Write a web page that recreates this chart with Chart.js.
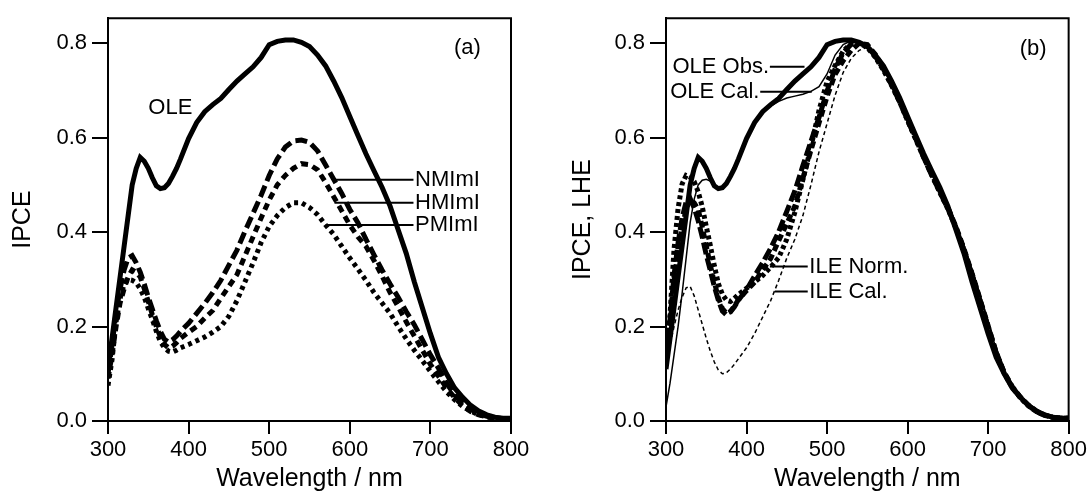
<!DOCTYPE html>
<html>
<head>
<script src="https://cdn.jsdelivr.net/npm/chart.js"></script>
<style>
  body { margin: 0; background: #fff; }
  canvas { position: absolute; top: 0; }
</style>
</head>
<body>
<canvas id="chartA" width="545" height="496" style="left:0"></canvas>
<canvas id="chartB" width="545" height="496" style="left:545px"></canvas>
<script>
// wavelength grid (nm)
const wavelength = [300,305,310,315,320,325,330,335,340,345,350,355,360,365,370,375,380,385,390,
  400,410,420,430,440,450,460,470,480,490,500,
  510,520,530,540,550,560,570,580,590,600,
  610,620,630,640,650,660,670,680,690,700,
  710,720,730,740,750,760,770,780,790,800];

// panel (a): IPCE
const ole = [0.11,0.175,0.24,0.305,0.37,0.435,0.50,0.535,0.558,0.55,0.535,0.515,0.498,0.492,0.494,0.503,0.518,0.535,0.555,
  0.598,0.632,0.655,0.67,0.683,0.702,0.72,0.735,0.75,0.77,0.797,
  0.804,0.807,0.807,0.802,0.793,0.775,0.752,0.72,0.685,0.645,
  0.605,0.566,0.53,0.495,0.455,0.405,0.355,0.295,0.24,0.185,
  0.135,0.1,0.07,0.05,0.033,0.021,0.013,0.008,0.006,0.006];
const nmimi = [0.10,0.16,0.23,0.28,0.32,0.345,0.35,0.335,0.315,0.29,0.262,0.237,0.212,0.19,0.173,0.167,0.172,0.18,0.19,
  0.207,0.228,0.249,0.272,0.298,0.33,0.362,0.402,0.44,0.478,0.52,
  0.555,0.58,0.593,0.595,0.59,0.572,0.542,0.512,0.482,0.448,
  0.42,0.385,0.352,0.32,0.29,0.262,0.232,0.204,0.172,0.14,
  0.112,0.08,0.055,0.037,0.025,0.015,0.01,0.007,0.005,0.005];
const hmimi = [0.09,0.14,0.2,0.25,0.28,0.305,0.32,0.315,0.305,0.28,0.253,0.225,0.2,0.178,0.162,0.155,0.158,0.166,0.175,
  0.188,0.2,0.218,0.234,0.26,0.285,0.31,0.35,0.39,0.43,0.468,
  0.5,0.52,0.535,0.545,0.543,0.532,0.505,0.475,0.445,0.415,
  0.39,0.37,0.34,0.307,0.272,0.242,0.21,0.18,0.15,0.12,
  0.095,0.07,0.05,0.032,0.02,0.013,0.009,0.006,0.005,0.005];
const pmimi = [0.075,0.13,0.21,0.26,0.29,0.30,0.298,0.293,0.28,0.262,0.238,0.215,0.19,0.168,0.155,0.148,0.146,0.15,0.155,
  0.162,0.17,0.178,0.188,0.2,0.222,0.255,0.295,0.335,0.378,0.412,
  0.435,0.452,0.462,0.462,0.452,0.437,0.415,0.395,0.37,0.345,
  0.322,0.298,0.272,0.25,0.228,0.2,0.174,0.15,0.128,0.105,
  0.083,0.062,0.045,0.031,0.021,0.013,0.009,0.006,0.005,0.005];

// panel (b): IPCE, LHE
const oleObs = ole;
const oleCal = [0.03,0.08,0.14,0.2,0.27,0.345,0.42,0.47,0.50,0.51,0.512,0.508,0.50,0.493,0.494,0.503,0.518,0.535,0.555,
  0.598,0.632,0.655,0.667,0.677,0.684,0.688,0.692,0.698,0.708,0.735,
  0.775,0.797,0.805,0.802,0.795,0.775,0.75,0.718,0.683,0.643,
  0.603,0.563,0.528,0.493,0.458,0.418,0.373,0.322,0.268,0.21,
  0.152,0.105,0.075,0.053,0.035,0.022,0.013,0.008,0.006,0.006];
const ileNormN = [0.135,0.215,0.309,0.377,0.43,0.464,0.471,0.451,0.424,0.39,0.352,0.319,0.285,0.256,0.233,0.225,0.231,0.242,0.256,
  0.278,0.307,0.335,0.366,0.401,0.444,0.487,0.541,0.592,0.643,0.699,
  0.746,0.78,0.798,0.80,0.794,0.772,0.745,0.712,0.676,0.637,
  0.598,0.558,0.52,0.485,0.45,0.41,0.362,0.31,0.255,0.2,
  0.145,0.102,0.072,0.05,0.033,0.02,0.012,0.008,0.006,0.006];
const ileNormH = [0.132,0.206,0.294,0.367,0.411,0.448,0.47,0.462,0.448,0.411,0.371,0.33,0.294,0.261,0.238,0.228,0.232,0.244,0.257,
  0.276,0.294,0.32,0.344,0.382,0.418,0.455,0.514,0.573,0.631,0.687,
  0.734,0.763,0.785,0.80,0.797,0.776,0.748,0.715,0.68,0.64,
  0.6,0.561,0.523,0.487,0.452,0.412,0.365,0.313,0.258,0.202,
  0.146,0.103,0.073,0.051,0.034,0.021,0.013,0.008,0.006,0.006];
const ileNormP = [0.13,0.225,0.364,0.45,0.502,0.52,0.516,0.507,0.485,0.454,0.412,0.372,0.329,0.291,0.268,0.256,0.253,0.26,0.268,
  0.281,0.294,0.308,0.326,0.346,0.385,0.442,0.511,0.58,0.658,0.719,
  0.753,0.783,0.80,0.80,0.791,0.77,0.743,0.711,0.676,0.636,
  0.597,0.558,0.521,0.484,0.449,0.409,0.361,0.309,0.254,0.198,
  0.143,0.101,0.071,0.049,0.032,0.02,0.012,0.008,0.006,0.006];
const ileCal = [0.12,0.16,0.2,0.235,0.262,0.282,0.285,0.265,0.235,0.205,0.175,0.148,0.125,0.108,0.10,0.102,0.11,0.12,0.132,
  0.155,0.185,0.22,0.255,0.298,0.345,0.385,0.435,0.50,0.57,0.63,
  0.69,0.738,0.768,0.785,0.792,0.772,0.745,0.712,0.676,0.638,
  0.598,0.56,0.523,0.488,0.452,0.412,0.367,0.316,0.262,0.205,
  0.148,0.103,0.073,0.052,0.034,0.021,0.013,0.008,0.006,0.006];

const xTicks = [300, 400, 500, 600, 700, 800];
const yTicks = [0.0, 0.2, 0.4, 0.6, 0.8];

// text labels + leader lines, in data units
const notesA = [
  { text: 'OLE', x: 350, y: 0.662 },
  { text: 'NMImI', x: 681, y: 0.511, line: [581, 679] },
  { text: 'HMImI', x: 681, y: 0.462, line: [581, 679] },
  { text: 'PMImI', x: 681, y: 0.415, line: [570, 679] },
  { text: '(a)', x: 746, y: 0.79, align: 'center' }
];
const notesB = [
  { text: 'OLE Obs.', x: 428, y: 0.75, align: 'right', line: [429, 472] },
  { text: 'OLE Cal.', x: 416, y: 0.697, align: 'right', line: [417, 481] },
  { text: 'ILE Norm.', x: 478, y: 0.327, line: [429, 476] },
  { text: 'ILE Cal.', x: 478, y: 0.274, line: [435, 476] },
  { text: '(b)', x: 756, y: 0.788, align: 'center' }
];

const FAMILY = "'Liberation Sans', Arial, sans-serif";
const pts = arr => wavelength.map((w, i) => ({ x: w, y: arr[i] }));

function notesPlugin(items) {
  return {
    id: 'notes',
    afterDatasetsDraw(chart) {
      const { ctx, chartArea: a } = chart;
      const sx = chart.scales.x, sy = chart.scales.y;
      ctx.save();
      ctx.strokeStyle = '#000';
      ctx.fillStyle = '#000';
      ctx.lineWidth = 2;
      // box: top and right edges
      ctx.beginPath();
      ctx.moveTo(a.left, a.top);
      ctx.lineTo(a.right, a.top);
      ctx.lineTo(a.right, a.bottom);
      ctx.stroke();
      ctx.font = '22px ' + FAMILY;
      ctx.textBaseline = 'middle';
      items.forEach(n => {
        const py = sy.getPixelForValue(n.y);
        if (n.line) {
          ctx.beginPath();
          ctx.moveTo(sx.getPixelForValue(n.line[0]), py);
          ctx.lineTo(sx.getPixelForValue(n.line[1]), py);
          ctx.stroke();
        }
        ctx.textAlign = n.align || 'left';
        ctx.fillText(n.text, sx.getPixelForValue(n.x), py);
      });
      ctx.restore();
    }
  };
}

function line(data, width, dash) {
  return { data: pts(data), borderColor: '#000', borderWidth: width, borderDash: dash,
           pointRadius: 0, fill: false, tension: 0 };
}

function makeChart(id, datasets, cfg) {
  return new Chart(document.getElementById(id), {
    type: 'line',
    data: { datasets },
    options: {
      responsive: false,
      animation: false,
      devicePixelRatio: 1,
      layout: { padding: { top: 14, right: cfg.rightPad, left: 0, bottom: 0 } },
      plugins: { legend: { display: false }, tooltip: { enabled: false } },
      scales: {
        x: {
          type: 'linear', min: 300, max: 800,
          afterFit: s => { s.height = 75; },
          afterBuildTicks: s => { s.ticks = xTicks.map(v => ({ value: v })); },
          border: { color: '#000', width: 2 },
          grid: { drawOnChartArea: false, color: '#000', lineWidth: 2, tickLength: 13 },
          ticks: { color: '#000', font: { family: FAMILY, size: 22 }, padding: 3, maxRotation: 0 },
          title: { display: true, text: 'Wavelength / nm', color: '#000',
                   font: { family: FAMILY, size: 25 }, padding: { top: 0, bottom: 2 } }
        },
        y: {
          type: 'linear', min: 0, max: 0.853,
          afterFit: s => { s.width = cfg.axisWidth; },
          afterBuildTicks: s => { s.ticks = yTicks.map(v => ({ value: v })); },
          border: { color: '#000', width: 2 },
          grid: { drawOnChartArea: false, color: '#000', lineWidth: 2, tickLength: 16 },
          ticks: { color: '#000', font: { family: FAMILY, size: 22 }, padding: 5,
                   callback: v => v.toFixed(1) },
          title: { display: true, text: cfg.yTitle, color: '#000',
                   font: { family: FAMILY, size: 25 }, padding: { top: cfg.titlePad, bottom: 0 } }
        }
      }
    },
    plugins: [notesPlugin(cfg.notes)]
  });
}

makeChart('chartA', [
  line(ole, 5, []),
  line(nmimi, 5, [12, 5]),
  line(hmimi, 5, [7, 5]),
  line(pmimi, 5, [4, 4])
], { yTitle: 'IPCE', axisWidth: 108, rightPad: 34, titlePad: 8, notes: notesA });

makeChart('chartB', [
  line(ileNormN, 5, [12, 4]),
  line(ileNormH, 5, [7, 4]),
  line(ileNormP, 5, [4, 3]),
  line(ileCal, 1.5, [4, 3]),
  line(oleCal, 1.5, []),
  line(oleObs, 5, [])
], { yTitle: 'IPCE, LHE', axisWidth: 121, rightPad: 21, titlePad: 23, notes: notesB });
</script>
</body>
</html>
